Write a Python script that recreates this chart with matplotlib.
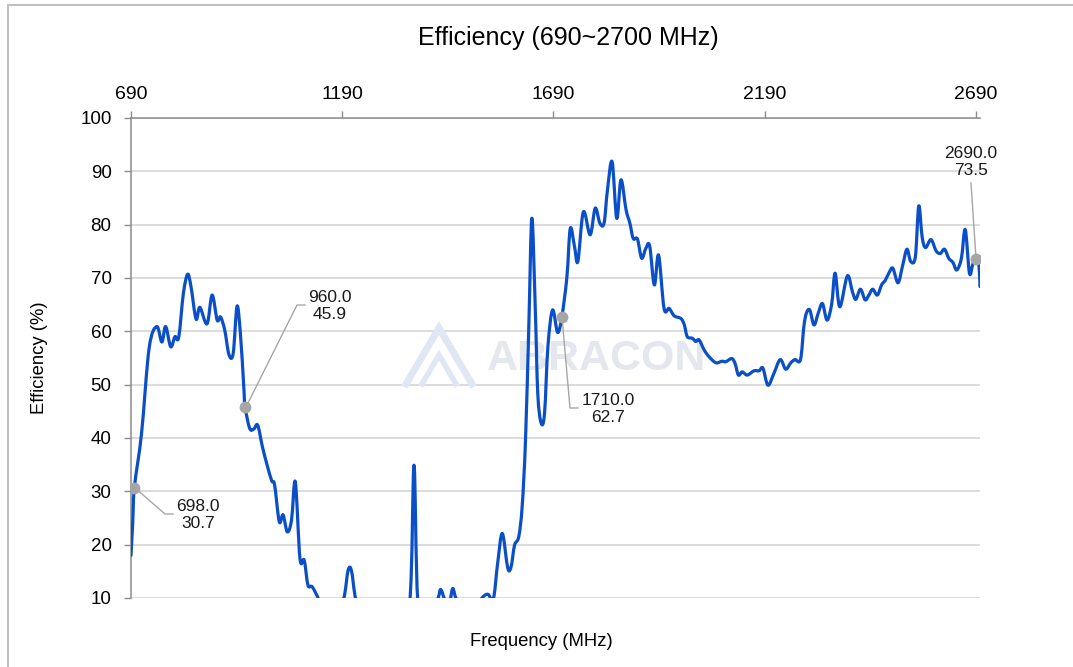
import matplotlib
matplotlib.use("Agg")
import matplotlib.pyplot as plt
from matplotlib.patches import Rectangle, PathPatch
from matplotlib.lines import Line2D
from matplotlib.path import Path

plt.rcParams['font.family'] = ['Liberation Sans', 'DejaVu Sans']

# ---- data ----
freq = [690, 694, 698, 715, 733, 751, 763, 772, 784, 794, 803, 814, 824, 832, 844,
        853, 870, 882, 894, 902, 912, 922, 932, 941, 949, 957, 960, 971, 981, 990,
        1001, 1011, 1023, 1030, 1041, 1050, 1060, 1070, 1079, 1090, 1100, 1109, 1119,
        1135, 1150, 1175, 1194, 1204, 1212, 1222, 1240, 1280, 1320, 1350, 1360, 1369,
        1390, 1416, 1423, 1432, 1439, 1446, 1452, 1460, 1480, 1505, 1523, 1535, 1548,
        1558, 1569, 1582, 1590, 1598, 1608, 1616, 1624, 1632, 1639, 1647, 1653, 1661,
        1669, 1677, 1688, 1700, 1710, 1722, 1730, 1740, 1748, 1761, 1777, 1789, 1800,
        1810, 1818, 1829, 1840, 1850, 1862, 1871, 1879, 1889, 1899, 1909, 1918, 1929,
        1939, 1952, 1964, 1976, 1992, 2000, 2007, 2019, 2027, 2035, 2047, 2059, 2075,
        2089, 2098, 2112, 2120, 2128, 2137, 2149, 2165, 2177, 2186, 2198, 2212, 2227,
        2240, 2252, 2262, 2275, 2283, 2289, 2297, 2307, 2317, 2327, 2338, 2349, 2357,
        2368, 2386, 2398, 2406, 2417, 2428, 2437, 2446, 2457, 2467, 2476, 2486, 2494,
        2506, 2517, 2527, 2536, 2547, 2555, 2563, 2571, 2584, 2596, 2606, 2616, 2626,
        2636, 2645, 2656, 2665, 2675, 2683, 2690, 2697, 2700]
eff = [18.0, 24.0, 30.7, 40.9, 56.9, 60.9, 58.0, 60.9, 57.1, 59.0, 58.9, 67.1, 70.7, 68.4, 62.3,
       64.5, 61.4, 66.8, 62.1, 62.7, 60.2, 55.6, 55.9, 64.7, 59.6, 49.6, 45.9, 41.8, 41.7, 42.4,
       38.4, 35.3, 32.0, 31.2, 24.3, 25.6, 22.4, 24.6, 31.8, 17.4, 17.1, 12.4, 12.1,
       9.6, 6.0, 6.5, 10.0, 15.2, 15.1, 9.8, 6.0, 4.5, 5.5, 9.5, 34.9, 9.5,
       6.0, 9.8, 11.6, 9.8, 8.5, 9.8, 11.8, 9.8, 7.0, 8.5, 10.2, 10.7, 9.9,
       16.5, 22.1, 15.6, 15.9, 19.9, 21.5, 27.1, 39.6, 61.5, 81.2, 64.6, 48.4, 42.8,
       44.6, 57.1, 64.0, 59.8, 62.7, 70.2, 79.3, 75.9, 73.1, 82.4, 78.1, 83.1, 80.3,
       80.3, 86.5, 91.8, 81.2, 88.4, 82.8, 80.3, 77.4, 77.3, 73.7, 75.6, 76.0, 68.7,
       74.3, 64.3, 64.3, 62.9, 62.4, 61.2, 59.0, 58.7, 58.1, 58.4, 56.5, 55.2, 54.1,
       54.4, 54.3, 54.9, 54.0, 51.8, 52.4, 51.8, 52.6, 52.6, 53.1, 49.9, 52.1, 54.7,
       52.9, 54.1, 54.7, 54.7, 60.9, 63.4, 64.0, 61.2, 63.4, 65.2, 62.1, 65.2, 70.9,
       64.6, 70.4, 67.4, 66.0, 67.9, 65.9, 66.8, 67.9, 66.8, 68.7, 69.6, 71.2, 71.8,
       69.1, 72.4, 75.4, 73.1, 74.0, 83.5, 77.7, 75.7, 77.2, 75.1, 74.6, 75.4, 73.7,
       72.9, 71.5, 73.7, 79.1, 70.9, 72.6, 73.5, 72.9, 68.4]

marker_freq = [698.0, 960.0, 1710.0, 2690.0]
marker_eff = [30.7, 45.9, 62.7, 73.5]

x_ticks = [690, 1190, 1690, 2190, 2690]
y_ticks = [10, 20, 30, 40, 50, 60, 70, 80, 90, 100]

title = "Efficiency (690~2700 MHz)"
xlabel = "Frequency (MHz)"
ylabel = "Efficiency (%)"

W, H = 1073, 667
fig = plt.figure(figsize=(W / 100, H / 100), dpi=100)

def fx(px):
    return px / W

def fy(py):
    return 1 - py / H

ax = fig.add_axes([fx(131), fy(598), fx(980) - fx(131), fy(118) - fy(598)])
ax.set_xlim(690, 2700)
ax.set_ylim(10, 100)

# smoothed line (Catmull-Rom style Bezier through the data points, like a spreadsheet "smoothed line")
n = len(freq)
verts = [(freq[0], eff[0])]
codes = [Path.MOVETO]
for i in range(n - 1):
    x0, y0 = freq[max(i - 1, 0)], eff[max(i - 1, 0)]
    x1, y1 = freq[i], eff[i]
    x2, y2 = freq[i + 1], eff[i + 1]
    x3, y3 = freq[min(i + 2, n - 1)], eff[min(i + 2, n - 1)]
    t = 1 / 6
    c1 = (x1 + (x2 - x0) * t, y1 + (y2 - y0) * t)
    c2 = (x2 - (x3 - x1) * t, y2 - (y3 - y1) * t)
    verts += [c1, c2, (x2, y2)]
    codes += [Path.CURVE4, Path.CURVE4, Path.CURVE4]
ax.add_patch(PathPatch(Path(verts, codes), facecolor='none', edgecolor='#0a4fc8',
                       lw=2.3, joinstyle='round', capstyle='round', zorder=4))

ax.set_xticks(x_ticks)
ax.set_yticks(y_ticks)
ax.xaxis.tick_top()
ax.tick_params(axis='x', which='both', direction='out', length=5, width=1,
               color='#8c8c8c', labelsize=14, pad=6, labelcolor='#000000')
ax.tick_params(axis='y', which='both', direction='out', length=5, width=1,
               color='#8c8c8c', labelsize=13.5, pad=9, labelcolor='#000000')
ax.grid(axis='y', color='#d9d9d9', lw=1.3, zorder=0)
ax.set_axisbelow(True)
for s in ['right', 'bottom']:
    ax.spines[s].set_visible(False)
ax.spines['left'].set_color('#8c8c8c')
ax.spines['top'].set_color('#8c8c8c')
ax.spines['left'].set_linewidth(1.1)
ax.spines['top'].set_linewidth(1.1)

# markers and annotations
ax.plot(marker_freq, marker_eff, 'o', color='#a6a6a6', ms=8.5, zorder=6,
        markeredgewidth=0)

lead = '#a6a6a6'
leaders = [
    [(135, 488), (165, 514), (173, 514)],
    [(246, 407), (297, 305), (305, 305)],
    [(562, 317), (570, 408), (578, 408)],
    [(976, 258), (971, 183)],
]
for pts in leaders:
    xs = [fx(p[0]) for p in pts]
    ys = [fy(p[1]) for p in pts]
    fig.add_artist(Line2D(xs, ys, color=lead, lw=1.0, zorder=5))

labels = [(198, 515, marker_freq[0], marker_eff[0]),
          (330, 306, marker_freq[1], marker_eff[1]),
          (608, 409, marker_freq[2], marker_eff[2]),
          (971, 162, marker_freq[3], marker_eff[3])]
for (px, py, f, e) in labels:
    fig.text(fx(px), fy(py), f"{f:.1f}\n{e:.1f}", ha='center', va='center',
             fontsize=12.5, linespacing=1.15, color='#1a1a1a', zorder=7)

# watermark
ax.text(fx(597), fy(359), "ABRACON", transform=fig.transFigure, ha='center',
        va='center', fontsize=31, fontweight='bold', color='#e4e7ee', zorder=1)
wm = '#e0e7f4'
for pts, lw in [([(406, 384), (439, 328), (472, 384)], 5),
                ([(422, 384), (439, 355), (456, 384)], 4)]:
    ax.add_line(Line2D([fx(p[0]) for p in pts], [fy(p[1]) for p in pts],
                       transform=fig.transFigure, color=wm, lw=lw, zorder=1,
                       solid_joinstyle='miter'))

# titles
fig.text(fx(568), fy(38), title, ha='center', va='center', fontsize=18)
fig.text(fx(541), fy(642), xlabel, ha='center', va='center', fontsize=13.3)
fig.text(fx(40), fy(358), ylabel, ha='center', va='center', fontsize=13.3,
         rotation=90)

# outer border
fig.add_artist(Rectangle((fx(8), -0.1), 1.2, fy(5) + 0.1, transform=fig.transFigure,
                         fill=False, edgecolor='#bfbfbf', lw=1.5, zorder=0))

fig.savefig("out.png", dpi=100)
